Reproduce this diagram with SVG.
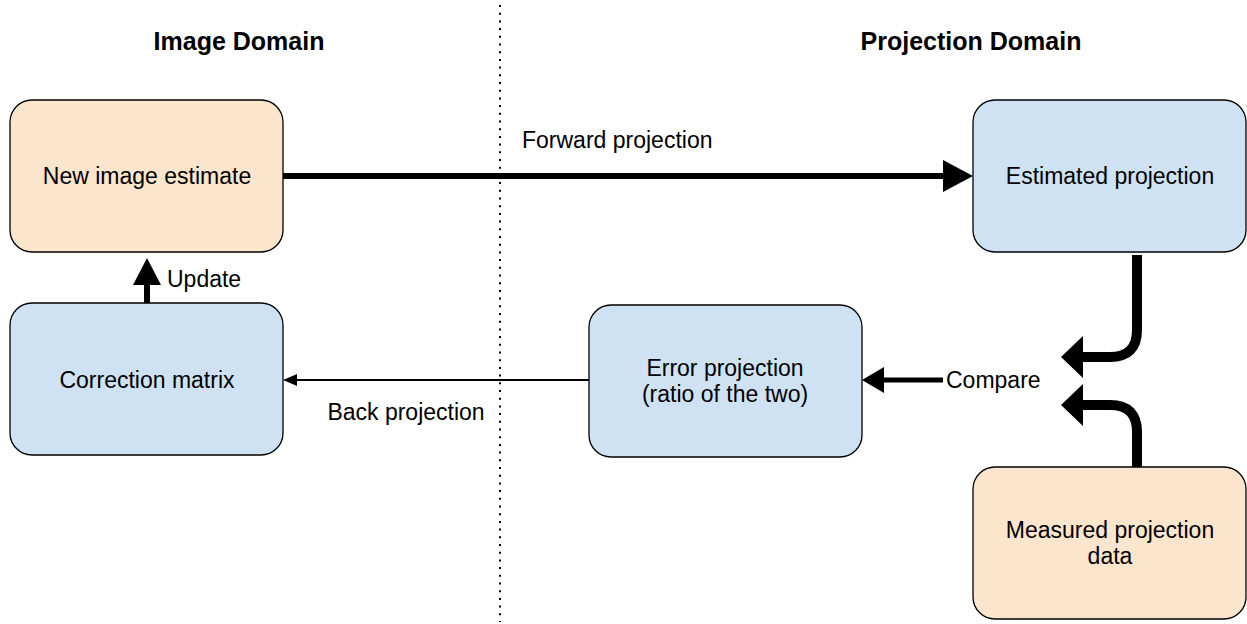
<svg xmlns="http://www.w3.org/2000/svg" width="1247" height="624" viewBox="0 0 1247 624">
<style>
.peach{fill:#fce5cd;stroke:#000;stroke-width:1.3}
.blue{fill:#cfe2f3;stroke:#000;stroke-width:1.3}
.t{font-family:"Liberation Sans",Arial,sans-serif;font-size:23px;fill:#000}
.b{font-family:"Liberation Sans",Arial,sans-serif;font-size:25px;font-weight:bold;fill:#000}
.c{text-anchor:middle}
.line{fill:none;stroke:#000}
</style>
<rect width="1247" height="624" fill="#fff"/>
<line x1="500" y1="5" x2="500" y2="622" stroke="#000" stroke-width="2" stroke-dasharray="2 5.7"/>
<text class="b c" x="239" y="50">Image Domain</text>
<text class="b c" x="971" y="50">Projection Domain</text>
<g id="connectors">
<line class="line" x1="283" y1="176" x2="945" y2="176" stroke-width="6"/>
<polygon points="973,176 943,160 943,192"/>
<text class="t" x="522" y="148">Forward projection</text>
<line class="line" x1="147" y1="303" x2="147" y2="283" stroke-width="6"/>
<polygon points="147,258 133,285 161,285"/>
<text class="t" x="167" y="287">Update</text>
<line class="line" x1="589" y1="380" x2="294" y2="380" stroke-width="2"/>
<polygon points="283,380 297,374 297,386"/>
<text class="t c" x="406" y="420">Back projection</text>
<line class="line" x1="943" y1="380" x2="882" y2="380" stroke-width="5"/>
<polygon points="862,380 884,367 884,393"/>
<text class="t" x="946" y="388">Compare</text>
<path class="line" d="M1137,255 V330 Q1137,357 1110,357 H1080" stroke-width="10"/>
<polygon points="1061,357 1083,336 1083,378"/>
<path class="line" d="M1137,467 V432 Q1137,405 1110,405 H1080" stroke-width="10"/>
<polygon points="1061,405 1083,384 1083,426"/>
</g>
<g id="node-new-image"><rect class="peach" x="10" y="100" width="273" height="152" rx="22"/><text class="t c" x="147" y="184">New image estimate</text></g>
<g id="node-correction"><rect class="blue" x="10" y="303" width="273" height="152" rx="22"/><text class="t c" x="147" y="388">Correction matrix</text></g>
<g id="node-error"><rect class="blue" x="589" y="305" width="273" height="152" rx="22"/><text class="t c" x="725" y="376">Error projection</text><text class="t c" x="725" y="402">(ratio of the two)</text></g>
<g id="node-estimated"><rect class="blue" x="973" y="100" width="273" height="152" rx="22"/><text class="t c" x="1110" y="184">Estimated projection</text></g>
<g id="node-measured"><rect class="peach" x="973" y="467" width="273" height="152" rx="22"/><text class="t c" x="1110" y="538">Measured projection</text><text class="t c" x="1110" y="564">data</text></g>
</svg>
